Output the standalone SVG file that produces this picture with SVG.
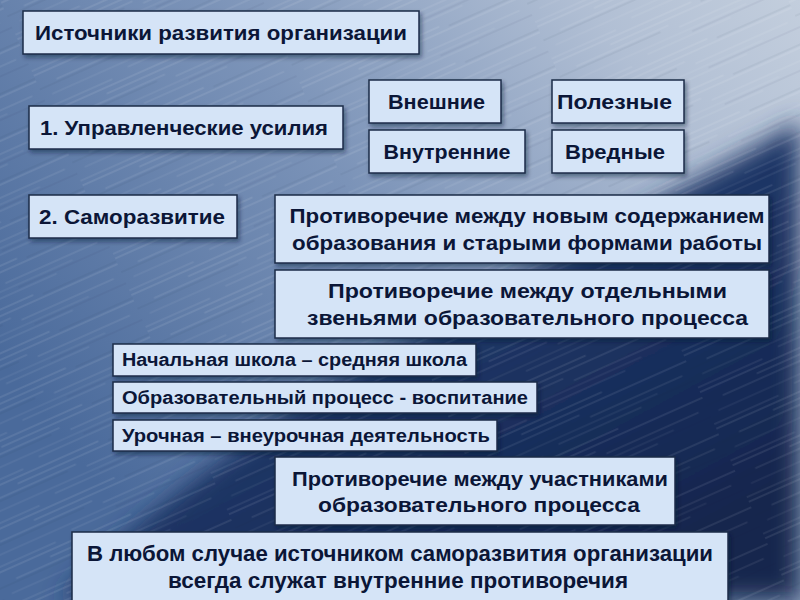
<svg xmlns="http://www.w3.org/2000/svg" width="800" height="600" viewBox="0 0 800 600">
<defs>
<linearGradient id="bg" x1="0" y1="0.6" x2="1" y2="0">
<stop offset="0" stop-color="#4a6a9b"/>
<stop offset="0.45" stop-color="#7b93b8"/>
<stop offset="0.8" stop-color="#b1bfd4"/>
<stop offset="1" stop-color="#c3cedd"/>
</linearGradient>
<linearGradient id="dark" x1="0.3" y1="0.3" x2="0.8" y2="0.9">
<stop offset="0" stop-color="#284273"/>
<stop offset="0.5" stop-color="#1b3160"/>
<stop offset="1" stop-color="#13264e"/>
</linearGradient>
<filter id="blur" x="-0.2" y="-0.2" width="1.4" height="1.4"><feGaussianBlur stdDeviation="12"/></filter>
<filter id="sh" x="-0.1" y="-0.2" width="1.2" height="1.5"><feDropShadow dx="2" dy="3" stdDeviation="2" flood-color="#0a1430" flood-opacity="0.45"/></filter>
<pattern id="streaks" width="240" height="40" patternUnits="userSpaceOnUse" patternTransform="rotate(-24)">
<g stroke="#ffffff" stroke-linecap="round">
<line x1="0" y1="3" x2="150" y2="3" stroke-opacity="0.16" stroke-width="1"/>
<line x1="60" y1="9" x2="240" y2="9" stroke-opacity="0.1" stroke-width="1.5"/>
<line x1="20" y1="15" x2="120" y2="15" stroke-opacity="0.18" stroke-width="0.8"/>
<line x1="130" y1="21" x2="230" y2="21" stroke-opacity="0.13" stroke-width="1"/>
<line x1="10" y1="27" x2="200" y2="27" stroke-opacity="0.09" stroke-width="1.2"/>
<line x1="90" y1="33" x2="180" y2="33" stroke-opacity="0.15" stroke-width="0.8"/>
<line x1="0" y1="38" x2="70" y2="38" stroke-opacity="0.12" stroke-width="1"/>
</g>
<g stroke="#0c1a3a" stroke-linecap="round">
<line x1="160" y1="6" x2="240" y2="6" stroke-opacity="0.1" stroke-width="1"/>
<line x1="0" y1="18" x2="110" y2="18" stroke-opacity="0.1" stroke-width="1"/>
<line x1="140" y1="30" x2="240" y2="30" stroke-opacity="0.09" stroke-width="1"/>
</g>
</pattern>
<style>
.box{fill:#d5e4f7;stroke:#1c2b48;stroke-width:1.5;filter:url(#sh)}
.t{font-family:"Liberation Sans",Arial,sans-serif;font-weight:bold;fill:#0b1637}
.c{text-anchor:middle}
.n{font-family:"Liberation Sans Narrow","Liberation Sans",Arial,sans-serif}
</style>
</defs>
<g id="background">
<rect width="800" height="600" fill="url(#bg)"/>
<path d="M800,120 C720,170 620,220 480,300 C340,380 220,440 60,600 L800,600 Z" fill="url(#dark)" filter="url(#blur)"/>
<rect width="800" height="600" fill="url(#streaks)"/>
</g>
<g id="connectors"/>
<g id="n1"><rect class="box" x="23" y="11" width="396" height="43"/><text class="t c" x="221" y="40" font-size="21" textLength="372" lengthAdjust="spacingAndGlyphs">Источники развития организации</text></g>
<g id="n2"><rect class="box" x="29" y="106" width="314" height="43"/><text class="t c" x="184" y="135" font-size="21" textLength="288" lengthAdjust="spacingAndGlyphs">1. Управленческие усилия</text></g>
<g id="n3"><rect class="box" x="369" y="80" width="132" height="43"/><text class="t c" x="436.5" y="109" font-size="21" textLength="97" lengthAdjust="spacingAndGlyphs">Внешние</text></g>
<g id="n4"><rect class="box" x="369" y="130" width="156" height="43"/><text class="t c" x="447" y="159" font-size="21" textLength="127" lengthAdjust="spacingAndGlyphs">Внутренние</text></g>
<g id="n5"><rect class="box" x="552" y="80" width="132" height="43"/><text class="t c" x="614.5" y="109" font-size="21" textLength="115" lengthAdjust="spacingAndGlyphs">Полезные</text></g>
<g id="n6"><rect class="box" x="552" y="130" width="132" height="43"/><text class="t c" x="615" y="159" font-size="21" textLength="100" lengthAdjust="spacingAndGlyphs">Вредные</text></g>
<g id="n7"><rect class="box" x="29" y="195" width="208" height="43"/><text class="t c" x="132" y="224" font-size="21" textLength="186" lengthAdjust="spacingAndGlyphs">2. Саморазвитие</text></g>
<g id="n8"><rect class="box" x="275" y="195" width="494" height="68"/>
<text class="t c" x="527" y="223" font-size="21" textLength="475" lengthAdjust="spacingAndGlyphs">Противоречие между новым содержанием</text>
<text class="t c" x="527" y="250" font-size="21" textLength="470" lengthAdjust="spacingAndGlyphs">образования и старыми формами работы</text></g>
<g id="n9"><rect class="box" x="275" y="270" width="494" height="68"/>
<text class="t c" x="527.5" y="298" font-size="21" textLength="399" lengthAdjust="spacingAndGlyphs">Противоречие между отдельными</text>
<text class="t c" x="527.5" y="325" font-size="21" textLength="441" lengthAdjust="spacingAndGlyphs">звеньями образовательного процесса</text></g>
<g id="n10"><rect class="box" x="113" y="344" width="363" height="32"/><text class="t" x="122" y="366" font-size="18" textLength="345" lengthAdjust="spacingAndGlyphs">Начальная школа – средняя школа</text></g>
<g id="n11"><rect class="box" x="113" y="382" width="424" height="31"/><text class="t" x="122" y="404" font-size="18" textLength="406" lengthAdjust="spacingAndGlyphs">Образовательный процесс - воспитание</text></g>
<g id="n12"><rect class="box" x="113" y="420" width="384" height="31"/><text class="t" x="122" y="442" font-size="18" textLength="368" lengthAdjust="spacingAndGlyphs">Урочная – внеурочная деятельность</text></g>
<g id="n13"><rect class="box" x="275" y="457" width="400" height="68"/>
<text class="t c" x="480" y="486" font-size="21" textLength="376" lengthAdjust="spacingAndGlyphs">Противоречие между участниками</text>
<text class="t c" x="479" y="512" font-size="21" textLength="322" lengthAdjust="spacingAndGlyphs">образовательного процесса</text></g>
<g id="n14"><rect class="box" x="72" y="532" width="656" height="80"/>
<text class="t c n" x="400" y="561" font-size="22" textLength="626" lengthAdjust="spacingAndGlyphs">В любом случае источником саморазвития организации</text>
<text class="t c n" x="398" y="588" font-size="22" textLength="460" lengthAdjust="spacingAndGlyphs">всегда служат внутренние противоречия</text></g>
</svg>
